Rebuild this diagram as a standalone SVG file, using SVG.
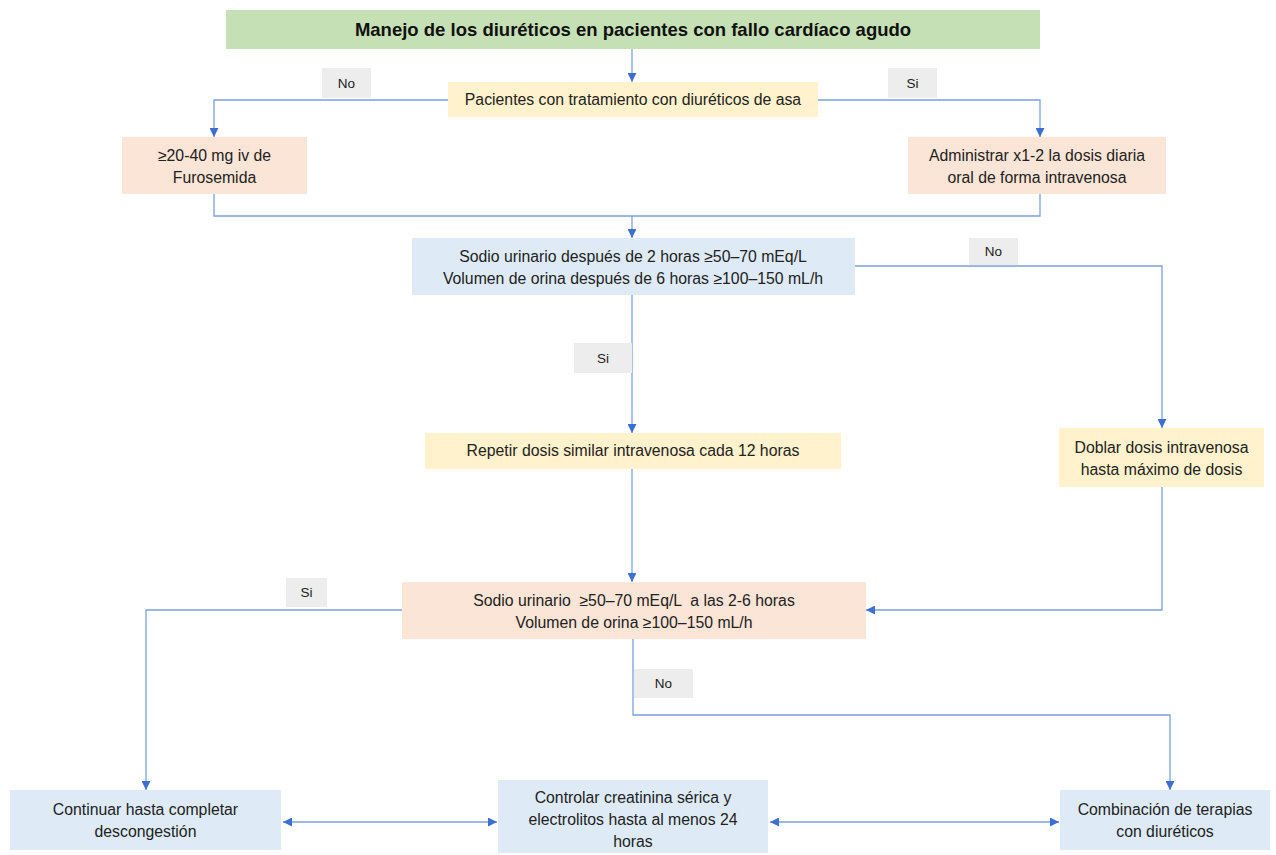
<svg xmlns="http://www.w3.org/2000/svg" width="1276" height="855" viewBox="0 0 1276 855">
<defs>
<style>
.t{font-family:"Liberation Sans",Arial,sans-serif;font-size:15.8px;fill:#222;text-anchor:middle}
.lbl{font-family:"Liberation Sans",Arial,sans-serif;font-size:13.5px;fill:#222;text-anchor:middle}
.ttl{font-family:"Liberation Sans",Arial,sans-serif;font-size:18.5px;font-weight:bold;fill:#111;text-anchor:middle}
.green{fill:#c5e0b4}
.yellow{fill:#fff2cc}
.peach{fill:#fbe5d6}
.blue{fill:#deebf7}
.grey{fill:#ededed}
.c{fill:none;stroke:#7aa0e0;stroke-width:1.3}
</style>
<marker id="ah" viewBox="0 0 10 10" refX="10" refY="5" markerWidth="9" markerHeight="9" markerUnits="userSpaceOnUse" orient="auto-start-reverse">
<path d="M0,0 L10,5 L0,10 Z" fill="#3d6fd0"/>
</marker>
</defs>
<rect width="1276" height="855" fill="#ffffff"/>

<g id="connectors">
<path class="c" d="M632,49 V82" marker-end="url(#ah)"/>
<path class="c" d="M448,100 H214 V137" marker-end="url(#ah)"/>
<path class="c" d="M818,100 H1040 V137" marker-end="url(#ah)"/>
<path class="c" d="M214,194 V216 H1040 V194"/>
<path class="c" d="M632,216 V238" marker-end="url(#ah)"/>
<path class="c" d="M855,266 H1162 V428" marker-end="url(#ah)"/>
<path class="c" d="M632,295 V433" marker-end="url(#ah)"/>
<path class="c" d="M632,469 V582" marker-end="url(#ah)"/>
<path class="c" d="M1162,487 V610 H866" marker-end="url(#ah)"/>
<path class="c" d="M402,610 H146 V790" marker-end="url(#ah)"/>
<path class="c" d="M633,639 V715 H1170 V790" marker-end="url(#ah)"/>
<path class="c" d="M283,822 H497" marker-start="url(#ah)" marker-end="url(#ah)"/>
<path class="c" d="M770,822 H1059" marker-start="url(#ah)" marker-end="url(#ah)"/>
</g>

<g id="labels">
<g id="lbl-no1"><rect class="grey" x="322" y="68" width="49" height="30"/><text class="lbl" x="346.5" y="88">No</text></g>
<g id="lbl-si1"><rect class="grey" x="888" y="68" width="49" height="30"/><text class="lbl" x="912.5" y="88">Si</text></g>
<g id="lbl-no2"><rect class="grey" x="969" y="238" width="49" height="27"/><text class="lbl" x="993.5" y="256">No</text></g>
<g id="lbl-si2"><rect class="grey" x="574" y="343" width="58" height="30"/><text class="lbl" x="603" y="363">Si</text></g>
<g id="lbl-si3"><rect class="grey" x="286" y="578" width="41" height="29"/><text class="lbl" x="306.5" y="597">Si</text></g>
<g id="lbl-no3"><rect class="grey" x="634" y="669" width="59" height="29"/><text class="lbl" x="663.5" y="688">No</text></g>
</g>

<g id="title">
<rect class="green" x="226" y="10" width="814" height="39"/>
<text class="ttl" x="633" y="36">Manejo de los diuréticos en pacientes con fallo cardíaco agudo</text>
</g>

<g id="n-pacientes">
<rect class="yellow" x="448" y="82" width="370" height="35"/>
<text class="t" x="633" y="105">Pacientes con tratamiento con diuréticos de asa</text>
</g>

<g id="n-furosemida">
<rect class="peach" x="122" y="137" width="185" height="57"/>
<text class="t" x="214.5" y="161">≥20-40 mg iv de</text>
<text class="t" x="214.5" y="183">Furosemida</text>
</g>

<g id="n-administrar">
<rect class="peach" x="908" y="137" width="258" height="57"/>
<text class="t" x="1037" y="161">Administrar x1-2 la dosis diaria</text>
<text class="t" x="1037" y="183">oral de forma intravenosa</text>
</g>

<g id="n-sodio1">
<rect class="blue" x="412" y="238" width="443" height="57"/>
<text class="t" x="633" y="262">Sodio urinario después de 2 horas ≥50–70 mEq/L</text>
<text class="t" x="633" y="284">Volumen de orina después de 6 horas ≥100–150 mL/h</text>
</g>

<g id="n-repetir">
<rect class="yellow" x="425" y="433" width="416" height="36"/>
<text class="t" x="633" y="456">Repetir dosis similar intravenosa cada 12 horas</text>
</g>

<g id="n-doblar">
<rect class="yellow" x="1059" y="428" width="205" height="59"/>
<text class="t" x="1161.5" y="453">Doblar dosis intravenosa</text>
<text class="t" x="1161.5" y="475">hasta máximo de dosis</text>
</g>

<g id="n-sodio2">
<rect class="peach" x="402" y="582" width="464" height="57"/>
<text class="t" x="634" y="606" xml:space="preserve">Sodio urinario  ≥50–70 mEq/L  a las 2-6 horas</text>
<text class="t" x="634" y="628">Volumen de orina ≥100–150 mL/h</text>
</g>

<g id="n-continuar">
<rect class="blue" x="10" y="790" width="271" height="60"/>
<text class="t" x="145.5" y="815">Continuar hasta completar</text>
<text class="t" x="145.5" y="837">descongestión</text>
</g>

<g id="n-controlar">
<rect class="blue" x="498" y="780" width="270" height="73"/>
<text class="t" x="633" y="803">Controlar creatinina sérica y</text>
<text class="t" x="633" y="825">electrolitos hasta al menos 24</text>
<text class="t" x="633" y="847">horas</text>
</g>

<g id="n-combinacion">
<rect class="blue" x="1060" y="790" width="210" height="60"/>
<text class="t" x="1165" y="815">Combinación de terapias</text>
<text class="t" x="1165" y="837">con diuréticos</text>
</g>
</svg>
